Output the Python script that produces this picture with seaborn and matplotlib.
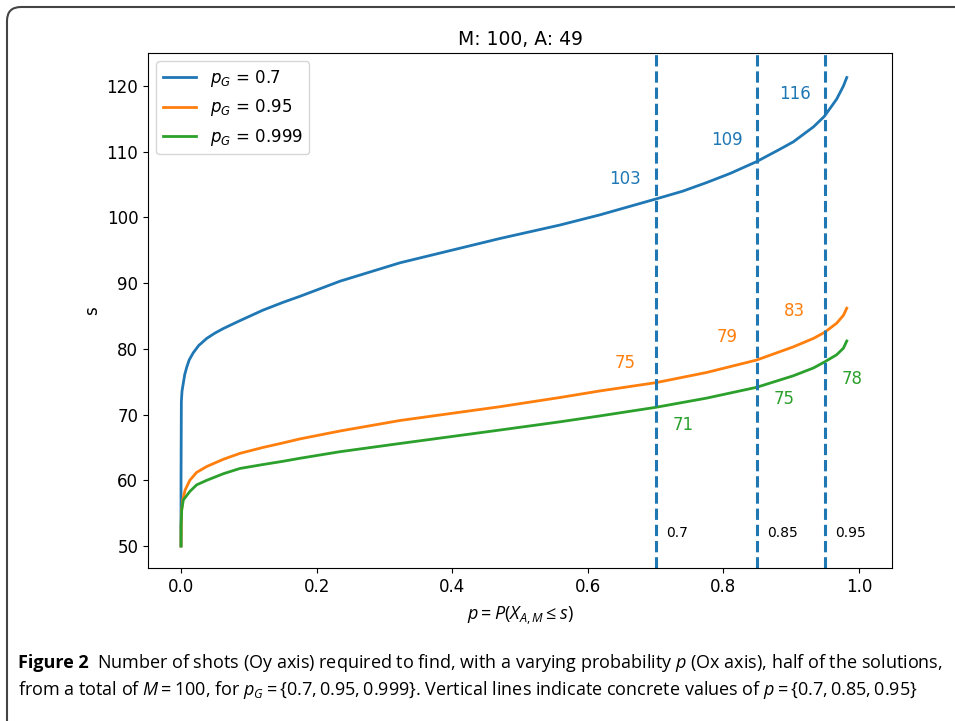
import numpy as np
import pandas as pd
import matplotlib
matplotlib.use('Agg')
import matplotlib.pyplot as plt
import seaborn as sns
from matplotlib import font_manager
from matplotlib.patches import FancyBboxPatch

# values
p_blue = [0.0, 0.0, 0.0005, 0.0015, 0.0034, 0.0055, 0.0084, 0.012, 0.018, 0.026, 0.038, 0.05,
          0.0625, 0.087, 0.121, 0.151, 0.1755, 0.2345, 0.323, 0.4705, 0.559, 0.618, 0.70, 0.74,
          0.775, 0.81, 0.849, 0.88, 0.903, 0.933, 0.949, 0.967, 0.977, 0.982]
s_blue = [50.0, 60.0, 72.0, 73.6, 74.8, 76.1, 77.2, 78.3, 79.4, 80.5, 81.6, 82.4,
          83.1, 84.3, 85.9, 87.1, 88.0, 90.3, 93.1, 96.8, 98.85, 100.4, 102.8, 104.0,
          105.3, 106.7, 108.5, 110.2, 111.5, 113.8, 115.4, 118.0, 120.0, 121.3]

p_orange = [0.0, 0.0005, 0.0025, 0.006, 0.013, 0.023, 0.038, 0.0625, 0.087, 0.121, 0.151, 0.1755,
            0.2345, 0.323, 0.4705, 0.559, 0.618, 0.70, 0.775, 0.849, 0.903, 0.933, 0.949, 0.967,
            0.977, 0.982]
s_orange = [50.0, 55.0, 57.0, 58.5, 60.0, 61.2, 62.1, 63.2, 64.1, 65.0, 65.7, 66.3,
            67.5, 69.1, 71.2, 72.6, 73.6, 74.85, 76.4, 78.3, 80.3, 81.6, 82.5, 83.9,
            85.1, 86.2]

p_green = [0.0, 0.0, 0.001, 0.0034, 0.013, 0.023, 0.038, 0.0625, 0.087, 0.121, 0.151, 0.1755,
           0.2345, 0.323, 0.4705, 0.559, 0.618, 0.70, 0.775, 0.849, 0.903, 0.933, 0.949, 0.967,
           0.977, 0.982]
s_green = [50.0, 53.0, 55.5, 57.0, 58.3, 59.3, 60.0, 61.0, 61.8, 62.4, 62.9, 63.35,
           64.35, 65.6, 67.65, 68.9, 69.8, 71.1, 72.5, 74.15, 75.9, 77.1, 78.0, 79.1,
           80.1, 81.2]

series_labels = [r'$p_G$ = 0.7', r'$p_G$ = 0.95', r'$p_G$ = 0.999']
vline_p = [0.7, 0.85, 0.95]
vline_text = ['0.7', '0.85', '0.95']
ann_blue = [103, 109, 116]
ann_orange = [75, 79, 83]
ann_green = [71, 75, 78]

df = pd.concat([
    pd.DataFrame({'p': p_blue, 's': s_blue, 'label': series_labels[0]}),
    pd.DataFrame({'p': p_orange, 's': s_orange, 'label': series_labels[1]}),
    pd.DataFrame({'p': p_green, 's': s_green, 'label': series_labels[2]}),
], ignore_index=True)

plt.rcParams['font.family'] = 'DejaVu Sans'
plt.rcParams['mathtext.fontset'] = 'dejavusans'

# caption font: narrow if available
avail = {f.name for f in font_manager.fontManager.ttflist}
cap_font = 'Liberation Sans Narrow' if 'Liberation Sans Narrow' in avail else 'Open Sans'
plt.rcParams['mathtext.rm'] = cap_font
plt.rcParams['mathtext.it'] = cap_font + ':italic'
plt.rcParams['mathtext.bf'] = cap_font + ':bold'

colors = sns.color_palette('tab10')[:3]

fig = plt.figure(figsize=(9.55, 7.21), dpi=100)
ax = fig.add_axes([148 / 955, 1 - 568 / 721, (892 - 148) / 955, (568 - 53) / 721])

sns.lineplot(data=df, x='p', y='s', hue='label', palette=colors, estimator=None,
             sort=False, lw=2, ax=ax)

for p, txt in zip(vline_p, vline_text):
    ax.axvline(p, color=colors[0], ls='--', lw=2.2)
    ax.text(p + 0.015, 52, txt, fontsize=10, ha='left', va='center')

for p, v in zip(vline_p, ann_blue):
    ax.text(p - 0.045, v + 2.8, str(v), color=colors[0], fontsize=12, ha='center', va='center')
for p, v in zip(vline_p, ann_orange):
    ax.text(p - 0.045, v + 2.8, str(v), color=colors[1], fontsize=12, ha='center', va='center')
for p, v in zip(vline_p, ann_green):
    ax.text(p + 0.04, v - 2.6, str(v), color=colors[2], fontsize=12, ha='center', va='center')

ax.set_xlim(-0.0487, 1.0487)
ax.set_ylim(46.65, 125.03)
ax.set_xticks([0.0, 0.2, 0.4, 0.6, 0.8, 1.0])
ax.set_yticks([50, 60, 70, 80, 90, 100, 110, 120])
ax.tick_params(labelsize=12)
ax.set_title('M: 100, A: 49', fontsize=13.5)
ax.set_ylabel('s', fontsize=12)
ax.set_xlabel(r'$p = P(X_{A,M} \leq s)$', fontsize=13, math_fontfamily='custom', labelpad=6)

handles, labels = ax.get_legend_handles_labels()
ax.legend(handles, labels, loc='upper left', fontsize=12)

# frame around the figure
frame = FancyBboxPatch((7, -30), 1000, 714 + 30, boxstyle='round,pad=0,rounding_size=14',
                       transform=None, ec='#444444', fc='none', lw=1.5)
fig.add_artist(frame)

# caption
line1_rest = r'Number of shots (Oy axis) required to find, with a varying probability $p$ (Ox axis), half of the solutions,'
line2 = r'from a total of $M = 100$, for $p_G = \{0.7, 0.95, 0.999\}$. Vertical lines indicate concrete values of $p = \{0.7, 0.85, 0.95\}$'

fs = 12.0
renderer = fig.canvas.get_renderer()
t1 = fig.text(18 / 955, 1 - 663 / 721, 'Figure 2', family=cap_font, weight='bold', fontsize=fs, va='center')
w1 = t1.get_window_extent(renderer).width
t2 = fig.text((18 + w1 + 10) / 955, 1 - 663 / 721, line1_rest, family=cap_font, fontsize=fs,
              va='center', math_fontfamily='custom')
w2 = t2.get_window_extent(renderer).width
total = w1 + 10 + w2
scale = 928 / total
fs2 = fs * scale
t1.set_fontsize(fs2)
w1 = t1.get_window_extent(renderer).width
t2.set_fontsize(fs2)
t2.set_x((18 + w1 + 8) / 955)
fig.text(18 / 955, 1 - 690 / 721, line2, family=cap_font, fontsize=fs2, va='center',
         math_fontfamily='custom')

fig.savefig('out.png', dpi=100)
